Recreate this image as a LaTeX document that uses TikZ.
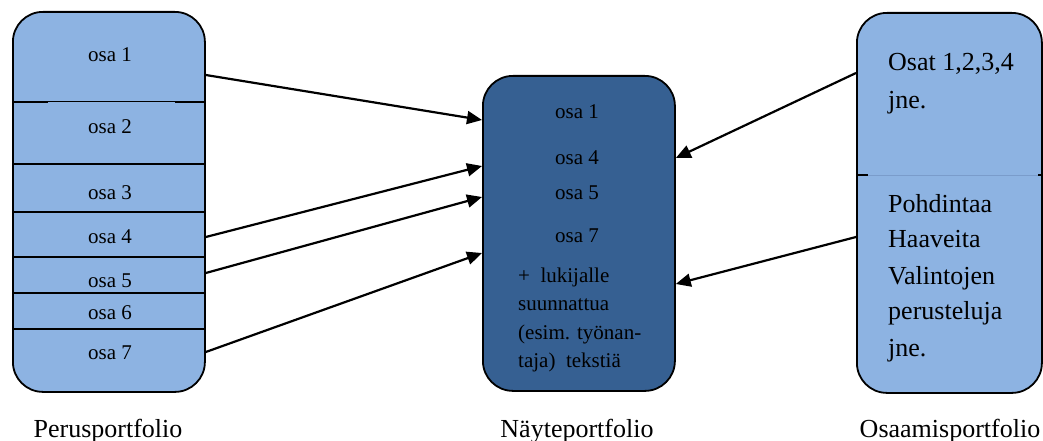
\documentclass[tikz,border=0pt]{standalone}
\usepackage{fontspec}
\setmainfont{Liberation Serif}
\usetikzlibrary{arrows.meta}
\definecolor{lightblue}{HTML}{8DB3E2}
\definecolor{darkblue}{HTML}{366092}
\definecolor{divblue}{HTML}{7A9CCB}
\begin{document}
\begin{tikzpicture}[x=1pt,y=-1pt,
  pbox/.style={draw=black, line width=1.8pt, rounded corners=30pt, inner sep=0pt, anchor=north west},
  osa/.style={inner sep=0pt, anchor=base, font=\fontsize{21}{24}\selectfont},
  lft/.style={inner sep=0pt, anchor=base west, font=\fontsize{21}{24}\selectfont},
  big/.style={inner sep=0pt, anchor=base west, font=\fontsize{26}{30}\selectfont},
  lbl/.style={inner sep=0pt, anchor=base, font=\fontsize{26}{30}\selectfont},
  divider/.style={draw=black, line width=1.5pt},
  arr/.style={draw=black, line width=2.2pt, -{Triangle[length=15pt, width=13pt]}}
]
\useasboundingbox (0,0) rectangle (1043,441);

% Left box: Perusportfolio
\node[pbox, fill=lightblue, minimum width=192pt, minimum height=380pt] (L) at (12,11) {};
\draw[draw=black, line width=1pt] (L.west |- 0,102) -- (L.east |- 0,102);
\draw[divider] (L.west |- 0,102) -- ++(36,0);
\draw[divider] (L.east |- 0,102) -- ++(-31,0);
\foreach \yy in {164,212,257,293,329}
  \draw[divider] (L.west |- 0,\yy) -- (L.east |- 0,\yy);
\node[osa] (l1) at (110,62) {osa 1};
\node[osa] (l2) at (110,133) {osa 2};
\node[osa] (l3) at (110,199) {osa 3};
\node[osa] (l4) at (110,243) {osa 4};
\node[osa] (l5) at (110,287) {osa 5};
\node[osa] (l6) at (110,319) {osa 6};
\node[osa] (l7) at (110,359) {osa 7};

% Middle box: Näyteportfolio
\node[pbox, fill=darkblue, minimum width=192pt, minimum height=315pt] (M) at (482,75) {};
\node[osa] (m1) at (577,119) {osa 1};
\node[osa] (m4) at (577,164) {osa 4};
\node[osa] (m5) at (577,199) {osa 5};
\node[osa] (m7) at (577,242) {osa 7};
\node[lft] (mt1) at (518,282) {+\ \ lukijalle};
\node[lft] (mt2) at (518,310) {suunnattua};
\node[lft] (mt3) at (518,339) {(esim. työnan-};
\node[lft] (mt4) at (518,367) {taja)\ \ tekstiä};

% Right box: Osaamisportfolio
\node[pbox, fill=lightblue, minimum width=185pt, minimum height=380pt] (R) at (856,12) {};
\draw[draw=divblue, line width=1pt] (R.west |- 0,175) -- (R.east |- 0,175);
\draw[divider] (R.west |- 0,175) -- ++(12,0);
\draw[divider] (R.east |- 0,175) -- ++(-5,0);
\node[big] (r1) at (888,71) {Osat 1,2,3,4};
\node[big] (r2) at (888,109) {jne.};
\node[big] (r3) at (888,212) {Pohdintaa};
\node[big] (r4) at (888,247) {Haaveita};
\node[big] (r5) at (888,284) {Valintojen};
\node[big] (r6) at (888,319) {perusteluja};
\node[big] (r7) at (888,356) {jne.};

% Labels
\node[lbl] (labL) at (108,437) {Perusportfolio};
\node[lbl] (labM) at (577,437) {Näyteportfolio};
\node[lbl] (labR) at (950,437) {Osaamisportfolio};

% Arrows
\draw[arr] (L.east |- 0,75) -- (M.west |- 0,120);
\draw[arr] (L.east |- 0,237) -- (M.west |- 0,166);
\draw[arr] (L.east |- 0,273) -- (M.west |- 0,197);
\draw[arr] (L.east |- 0,352) -- (M.west |- 0,253);
\draw[arr] (R.west |- 0,73) -- (M.east |- 0,158);
\draw[arr] (R.west |- 0,237) -- (M.east |- 0,284);
\end{tikzpicture}
\end{document}
